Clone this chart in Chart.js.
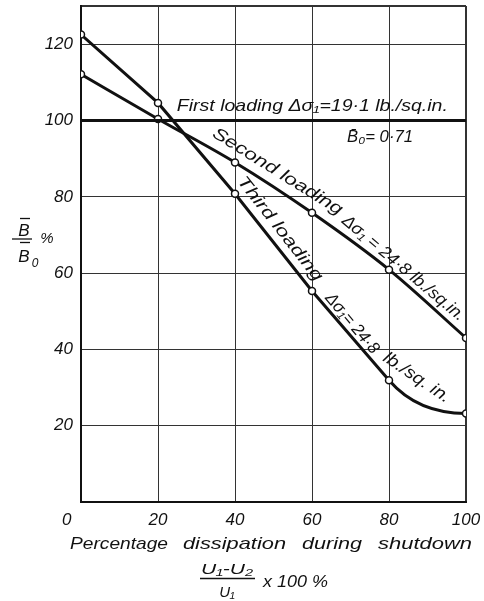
<!DOCTYPE html>
<html>
<head>
<meta charset="utf-8">
<script src="https://cdn.jsdelivr.net/npm/chart.js@4.4.0/dist/chart.umd.min.js"></script>
<style>
  html, body { margin: 0; padding: 0; background: #fff; }
  #wrap { width: 484px; height: 601px; position: relative; }
</style>
</head>
<body>
<div id="wrap"><canvas id="chart"></canvas></div>
<script>
"use strict";

// values
const dissipation = [0, 20, 40, 60, 80, 100];
const firstX = [0, 100];
const firstLoading = [100, 100];
const secondLoading = [112.1, 100.4, 89.0, 75.8, 60.9, 43.0];
const thirdLoading = [122.5, 104.6, 80.8, 55.3, 31.9, 23.2];
const xTicks = [0, 20, 40, 60, 80, 100];
const yTicks = [0, 20, 40, 60, 80, 100, 120, 130];

const INK = "#111";
const FONT = "'Liberation Sans', 'DejaVu Sans', sans-serif";

// text written along the curves (data coords of the left end, angle in degrees, width in px)
const curveLabels = [
  { text: "First loading Δσ₁=19·1 lb./sq.in.", x: 24.9, y: 103.8, angle: 0, width: 271 },
  { text: "B\u0304\u2080= 0·71", x: 69.1, y: 95.5, angle: 0, width: 66 },
  { text: "Second loading", x: 34.5, y: 97.0, angle: 32, width: 150 },
  { text: "Δσ₁ = 24·8 lb./sq.in.", x: 68.3, y: 74.3, angle: 40, width: 155 },
  { text: "Third loading", x: 41.4, y: 84.8, angle: 52, width: 128 },
  { text: "Δσ₁= 24·8", x: 64.2, y: 54.2, angle: 50, width: 74 },
  { text: "lb./sq. in.", x: 78.9, y: 38.2, angle: 34, width: 77 },
];

const toPoints = (xs, ys) => xs.map((x, i) => ({ x, y: ys[i] }));

function fitText(ctx, text, x, y, width, angle) {
  ctx.save();
  ctx.translate(x, y);
  ctx.rotate((angle * Math.PI) / 180);
  const w = ctx.measureText(text).width;
  ctx.scale(width / w, 1);
  ctx.fillText(text, 0, 0);
  ctx.restore();
}

function hLine(ctx, x1, x2, y, lw) {
  ctx.beginPath();
  ctx.lineWidth = lw;
  ctx.moveTo(x1, y);
  ctx.lineTo(x2, y);
  ctx.stroke();
}

// no extra room for edge labels: the plot box is fixed by layout padding
function noPad(s) {
  s.paddingTop = 0;
  s.paddingBottom = 0;
  s.paddingLeft = 0;
  s.paddingRight = 0;
}

const figurePlugin = {
  id: "figure",
  beforeDatasetsDraw(chart) {
    // third loading: curved tail between the last two points
    const pts = chart.getDatasetMeta(2).data;
    const a = pts[3], b = pts[4], c = pts[5];
    const slope = (b.y - a.y) / (b.x - a.x);
    const cx = b.x + (c.y - b.y) / slope;
    const ctx = chart.ctx;
    ctx.save();
    ctx.strokeStyle = INK;
    ctx.lineWidth = 3;
    ctx.beginPath();
    ctx.moveTo(b.x, b.y);
    ctx.quadraticCurveTo(cx, c.y, c.x, c.y);
    ctx.stroke();
    ctx.restore();
  },
  afterDraw(chart) {
    const { ctx, scales } = chart;
    ctx.save();
    ctx.fillStyle = INK;
    ctx.strokeStyle = INK;
    ctx.textAlign = "left";
    ctx.textBaseline = "middle";
    ctx.font = `italic 17px ${FONT}`;

    curveLabels.forEach((l) => {
      fitText(ctx, l.text, scales.x.getPixelForValue(l.x), scales.y.getPixelForValue(l.y), l.width, l.angle);
    });

    // y axis title: B/B0 %
    ctx.textAlign = "center";
    ctx.font = `italic 17px ${FONT}`;
    ctx.fillText("B", 24, 231);
    hLine(ctx, 20, 30, 218.5, 1.3);
    hLine(ctx, 12, 32, 239, 1.3);
    hLine(ctx, 20, 30, 242.5, 1.3);
    ctx.fillText("B", 24, 257);
    ctx.font = `italic 12px ${FONT}`;
    ctx.fillText("0", 35, 264);
    ctx.font = `italic 15px ${FONT}`;
    ctx.fillText("%", 47, 239);

    // x axis title
    ctx.textAlign = "left";
    ctx.font = `italic 17px ${FONT}`;
    fitText(ctx, "Percentage", 70, 544, 98, 0);
    fitText(ctx, "dissipation", 183, 544, 103, 0);
    fitText(ctx, "during", 302, 544, 60, 0);
    fitText(ctx, "shutdown", 378, 544, 94, 0);

    ctx.font = `italic 15px ${FONT}`;
    fitText(ctx, "U₁-U₂", 201, 570, 52, 0);
    hLine(ctx, 200, 255, 578.5, 1.3);
    ctx.textAlign = "center";
    ctx.fillText("U₁", 227, 593);
    ctx.textAlign = "left";
    ctx.font = `italic 16px ${FONT}`;
    fitText(ctx, "x 100 %", 263, 583, 65, 0);
    ctx.restore();
  },
};

const pointStyle = {
  pointRadius: 3.5,
  pointBackgroundColor: "#fff",
  pointBorderColor: INK,
  pointBorderWidth: 1.5,
};

new Chart(document.getElementById("chart"), {
  type: "line",
  data: {
    datasets: [
      {
        label: "First loading",
        data: toPoints(firstX, firstLoading),
        borderColor: INK,
        borderWidth: 3,
        pointRadius: 0,
      },
      {
        label: "Second loading",
        data: toPoints(dissipation, secondLoading),
        borderColor: INK,
        borderWidth: 3,
        cubicInterpolationMode: "monotone",
        ...pointStyle,
      },
      {
        label: "Third loading",
        data: toPoints(dissipation, thirdLoading),
        borderColor: INK,
        borderWidth: 3,
        tension: 0,
        segment: { borderColor: (c) => (c.p0DataIndex === 4 ? "transparent" : INK) },
        ...pointStyle,
      },
    ],
  },
  options: {
    responsive: true,
    maintainAspectRatio: false,
    animation: false,
    layout: { padding: { top: 6, right: 18, left: 0, bottom: 0 } },
    plugins: { legend: { display: false }, tooltip: { enabled: false } },
    scales: {
      x: {
        type: "linear",
        min: 0,
        max: 100,
        afterBuildTicks: (s) => { s.ticks = xTicks.map((v) => ({ value: v })); },
        afterFit: (s) => { s.height = 99; noPad(s); },
        ticks: {
          padding: 8,
          color: INK,
          maxRotation: 0,
          autoSkip: false,
          font: { family: FONT, size: 17, style: "italic" },
          callback: (v) => (v === 0 ? "0      " : String(v)),
        },
        grid: {
          drawTicks: false,
          color: "#333",
          lineWidth: (c) => (c.tick && c.tick.value === 100 ? 2 : 1),
        },
        border: { color: INK, width: 2 },
      },
      y: {
        min: 0,
        max: 130,
        afterBuildTicks: (s) => { s.ticks = yTicks.map((v) => ({ value: v })); },
        afterFit: (s) => { s.width = 81; noPad(s); },
        ticks: {
          padding: 8,
          color: INK,
          autoSkip: false,
          font: { family: FONT, size: 17, style: "italic" },
          callback: (v) => (v === 0 || v === 130 ? "" : String(v)),
        },
        grid: {
          drawTicks: false,
          color: "#333",
          lineWidth: (c) => (c.tick && c.tick.value === 130 ? 2 : 1),
        },
        border: { color: INK, width: 2 },
      },
    },
  },
  plugins: [figurePlugin],
});
</script>
</body>
</html>
